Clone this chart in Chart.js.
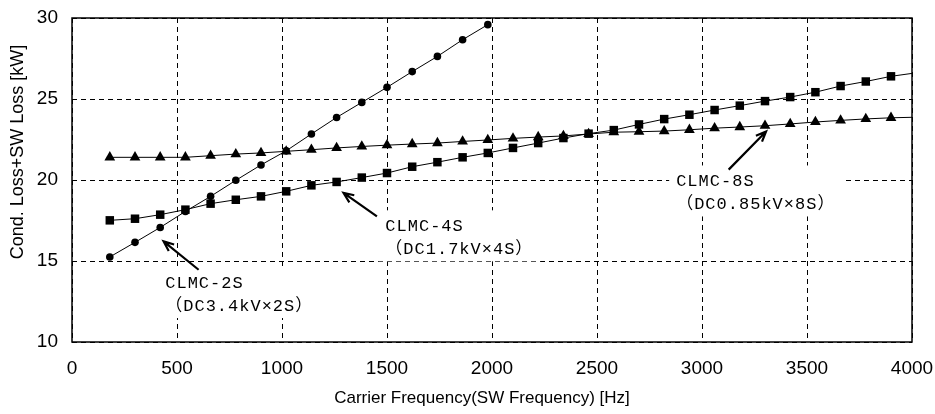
<!DOCTYPE html>
<html>
<head>
<meta charset="utf-8">
<script src="https://cdn.jsdelivr.net/npm/chart.js@4.4.1/dist/chart.umd.min.js"></script>
<style>
    html, body { margin: 0; padding: 0; background: #fff; }
</style>
</head>
<body>
<canvas id="loss-chart" width="935" height="414"></canvas>
<script>
// carrier frequency of each measured point [Hz]
var freqs = [180, 300, 420, 540, 660, 780, 900, 1020, 1140, 1260, 1380, 1500, 1620, 1740, 1860, 1980,
             2100, 2220, 2340, 2460, 2580, 2700, 2820, 2940, 3060, 3180, 3300, 3420, 3540, 3660, 3780, 3900];

// CLMC-2S (circles), only up to 1980 Hz
var clmc2s = [15.25, 16.15, 17.07, 18.06, 18.99, 19.98, 20.93, 21.80, 22.84, 23.86, 24.79, 25.72, 26.69, 27.63, 28.66, 29.59];

// CLMC-4S (squares)
var clmc4s = [17.51, 17.61, 17.86, 18.17, 18.54, 18.78, 18.99, 19.30, 19.67, 19.88, 20.15, 20.43, 20.82, 21.10, 21.40, 21.67,
              21.98, 22.28, 22.59, 22.86, 23.08, 23.43, 23.76, 24.03, 24.32, 24.59, 24.87, 25.12, 25.42, 25.80, 26.08, 26.40];

// CLMC-8S (triangles)
var clmc8s = [21.40, 21.40, 21.40, 21.40, 21.50, 21.60, 21.67, 21.77, 21.87, 21.98, 22.07, 22.15, 22.22, 22.28, 22.38, 22.47,
              22.57, 22.65, 22.72, 22.84, 22.95, 22.98, 23.02, 23.10, 23.20, 23.27, 23.35, 23.46, 23.58, 23.68, 23.77, 23.84];

// the trend lines of 4S and 8S run on to the right edge
var lineEndFreq = 4000;
var clmc4sEnd = 26.58;
var clmc8sEnd = 23.87;

var xTicks = [0, 500, 1000, 1500, 2000, 2500, 3000, 3500, 4000];
var yTicks = [10, 15, 20, 25, 30];

var xTitle = 'Carrier Frequency(SW Frequency) [Hz]';
var yTitle = 'Cond. Loss+SW Loss [kW]';

// callouts: text lines, arrow tip / tail and text corner, in data units
var notes = [
    { lines: ['CLMC-2S', '（DC3.4kV×2S）'], tip: [436, 16.21], tail: [603, 14.46], at: [444, 13.64] },
    { lines: ['CLMC-4S', '（DC1.7kV×4S）'], tip: [1293, 19.20], tail: [1452, 17.75], at: [1492, 17.14] },
    { lines: ['CLMC-8S', '（DC0.85kV×8S）'], tip: [3305, 23.00], tail: [3127, 20.64], at: [2877, 19.91] }
];

function points(xs, ys) {
    var out = [];
    for (var i = 0; i < ys.length; i++) out.push({ x: xs[i], y: ys[i] });
    return out;
}

var data4s = points(freqs, clmc4s);
data4s.push({ x: lineEndFreq, y: clmc4sEnd });
var data8s = points(freqs, clmc8s);
data8s.push({ x: lineEndFreq, y: clmc8sEnd });

function hideEnd(r) {
    return function(ctx) { return ctx.raw && ctx.raw.x > 3950 ? 0 : r; };
}

var framePlugin = {
    id: 'frame',
    beforeDatasetsDraw: function(chart) {
        var a = chart.chartArea, c = chart.ctx;
        c.save();
        c.strokeStyle = '#000';
        c.lineWidth = 1.5;
        c.strokeRect(a.left, a.top, a.right - a.left, a.bottom - a.top);
        c.restore();
    },
    afterDraw: function(chart) {
        var c = chart.ctx;
        var xs = chart.scales.x, ys = chart.scales.y;
        c.save();
        c.fillStyle = '#000';
        c.font = '17px "Liberation Sans", Arial, sans-serif';
        c.textAlign = 'center';
        c.textBaseline = 'middle';
        c.fillText(xTitle, 482, 398);
        c.font = '18px "Liberation Sans", Arial, sans-serif';
        c.translate(18, 152);
        c.rotate(-Math.PI / 2);
        c.fillText(yTitle, 0, 0);
        c.restore();

        notes.forEach(function(n) {
            var tx = xs.getPixelForValue(n.tip[0]), ty = ys.getPixelForValue(n.tip[1]);
            var sx = xs.getPixelForValue(n.tail[0]), sy = ys.getPixelForValue(n.tail[1]);
            var lx = xs.getPixelForValue(n.at[0]), ly = ys.getPixelForValue(n.at[1]);
            c.save();
            c.font = '17px "Liberation Mono", "Noto Sans CJK JP", monospace';
            c.letterSpacing = '1px';
            var w = 0;
            n.lines.forEach(function(t) { w = Math.max(w, c.measureText(t).width); });
            var lh = 23;
            c.fillStyle = '#fff';
            c.fillRect(lx - 7, ly - 16, w + 14, lh * (n.lines.length - 1) + 28);
            c.fillStyle = '#000';
            c.textAlign = 'left';
            c.textBaseline = 'middle';
            n.lines.forEach(function(t, i) { c.fillText(t, lx, ly + i * lh); });
            // arrow
            c.strokeStyle = '#000';
            c.lineWidth = 2.2;
            c.beginPath();
            c.moveTo(sx, sy);
            c.lineTo(tx, ty);
            var ang = Math.atan2(ty - sy, tx - sx);
            c.moveTo(tx - 11 * Math.cos(ang - 0.4), ty - 11 * Math.sin(ang - 0.4));
            c.lineTo(tx, ty);
            c.lineTo(tx - 11 * Math.cos(ang + 0.4), ty - 11 * Math.sin(ang + 0.4));
            c.stroke();
            c.restore();
        });
    }
};

var ctx = document.getElementById('loss-chart');

var lossChart = new Chart(ctx, {
    type: 'scatter',
    data: {
        datasets: [{
            label: 'CLMC-2S',
            data: points(freqs, clmc2s),
            showLine: true,
            borderColor: '#000',
            backgroundColor: '#000',
            borderWidth: 1,
            pointStyle: 'circle',
            pointRadius: 3.8,
            pointBorderWidth: 0
        },
        {
            label: 'CLMC-4S',
            data: data4s,
            showLine: true,
            borderColor: '#000',
            backgroundColor: '#000',
            borderWidth: 1,
            pointStyle: 'rect',
            pointRadius: hideEnd(6),
            pointBorderWidth: 0
        },
        {
            label: 'CLMC-8S',
            data: data8s,
            showLine: true,
            borderColor: '#000',
            backgroundColor: '#000',
            borderWidth: 1,
            pointStyle: 'triangle',
            pointRadius: hideEnd(6.2),
            pointBorderWidth: 0
        }]
    },
    options: {
        responsive: false,
        animation: false,
        layout: {
            padding: { left: 22, right: 23, top: 18, bottom: 32 }
        },
        plugins: {
            legend: { display: false },
            tooltip: { enabled: false }
        },
        scales: {
            x: {
                type: 'linear',
                min: 0,
                max: 4000,
                afterBuildTicks: function(axis) { axis.ticks = xTicks.map(function(v) { return { value: v }; }); },
                afterFit: function(axis) {
                    axis.height = 40;
                    axis.paddingLeft = 0;
                    axis.paddingRight = 0;
                },
                grid: { color: '#000', lineWidth: 1, drawTicks: false },
                border: { display: false, dash: [5, 4] },
                ticks: {
                    color: '#000',
                    padding: 15,
                    maxRotation: 0,
                    callback: function(v) { return String(v); },
                    font: { family: '"Liberation Sans", Arial, sans-serif', size: 19 }
                }
            },
            y: {
                min: 10,
                max: 30,
                afterBuildTicks: function(axis) { axis.ticks = yTicks.map(function(v) { return { value: v }; }); },
                afterFit: function(axis) {
                    axis.width = 50;
                    axis.paddingTop = 0;
                    axis.paddingBottom = 0;
                },
                grid: { color: '#000', lineWidth: 1, drawTicks: false },
                border: { display: false, dash: [5, 4] },
                ticks: {
                    color: '#000',
                    padding: 14,
                    callback: function(v) { return String(v); },
                    font: { family: '"Liberation Sans", Arial, sans-serif', size: 19 }
                }
            }
        }
    },
    plugins: [framePlugin]
});
</script>
</body>
</html>
